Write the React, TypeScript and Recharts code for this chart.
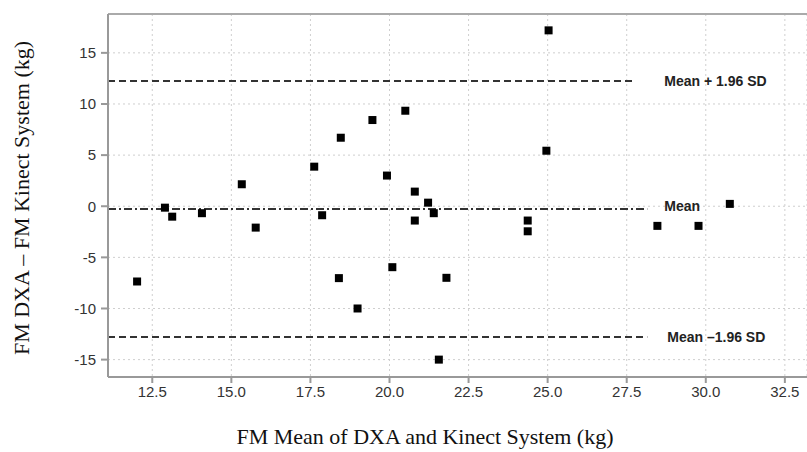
import { ScatterChart, Scatter, XAxis, YAxis, CartesianGrid, ReferenceLine, Label } from "recharts";

// Bland-Altman points: mean of the two methods vs. difference
const meanValues = [12.02, 12.9, 13.13, 14.07, 15.33, 15.77, 17.62, 17.87, 18.4, 18.46, 18.99, 19.46, 19.92, 20.09, 20.5, 20.8, 20.8, 21.22, 21.4, 21.56, 21.8, 24.37, 24.37, 24.96, 25.03, 28.47, 29.77, 30.76];
const diffValues = [-7.36, -0.14, -1.02, -0.68, 2.15, -2.09, 3.87, -0.88, -7.03, 6.7, -10.0, 8.43, 3.0, -5.96, 9.34, 1.43, -1.4, 0.35, -0.68, -15.0, -7.0, -1.4, -2.45, 5.43, 17.2, -1.92, -1.92, 0.23];

const xTicks = [12.5, 15, 17.5, 20, 22.5, 25, 27.5, 30, 32.5];
const yTicks = [-15, -10, -5, 0, 5, 10, 15];

const MEAN_DIFF = -0.27;
const UPPER_LIMIT = 12.24;
const LOWER_LIMIT = -12.78;

const X_MIN = 11.1;
const X_MAX = 33.2;
const Y_MIN = -16.7;
const Y_MAX = 18.8;

const points = meanValues.map((m, i) => ({ mean: m, diff: diffValues[i] }));

const tickStyle = { fontFamily: "Liberation Sans, Arial, sans-serif", fontSize: 15, fill: "#333" };
const lineLabelStyle = { fontFamily: "Liberation Sans, Arial, sans-serif", fontSize: 14, fontWeight: 700, fill: "#222" };
const titleFont = "Liberation Serif, Times New Roman, serif";

const SquareDot = (props: any) => {
    const { cx, cy } = props;
    return <rect x={cx - 4} y={cy - 4} width={8} height={8} fill="#000" />;
};

export default function App() {
    return (
        <div style={{ position: "absolute", left: 0, top: 0, background: "#fff" }}>
            <ScatterChart width={807} height={452} margin={{ top: 14, right: 0, bottom: 0, left: 0 }}>
                <CartesianGrid stroke="#cfcfcf" strokeDasharray="2 3" />
                <XAxis
                    type="number"
                    dataKey="mean"
                    domain={[X_MIN, X_MAX]}
                    ticks={xTicks}
                    tickFormatter={(v: number) => v.toFixed(1)}
                    allowDataOverflow
                    height={75}
                    stroke="#999"
                    strokeWidth={2}
                    tickSize={6}
                    tickMargin={3}
                    tick={tickStyle}
                >
                    <Label
                        content={() => (
                            <text x={425} y={444} textAnchor="middle" fontFamily={titleFont} fontSize={22} fill="#111">
                                FM Mean of DXA and Kinect System (kg)
                            </text>
                        )}
                    />
                </XAxis>
                <YAxis
                    type="number"
                    dataKey="diff"
                    domain={[Y_MIN, Y_MAX]}
                    ticks={yTicks}
                    allowDataOverflow
                    width={108}
                    stroke="#999"
                    strokeWidth={2}
                    tickSize={7}
                    tickMargin={5}
                    tick={tickStyle}
                >
                    <Label
                        content={() => (
                            <text x={29} y={198} transform="rotate(-90 29 198)" textAnchor="middle" fontFamily={titleFont} fontSize={22} fill="#111">
                                FM DXA – FM Kinect System (kg)
                            </text>
                        )}
                    />
                </YAxis>
                <ReferenceLine y={Y_MAX} stroke="#aaa" strokeWidth={2} />
                <ReferenceLine
                    segment={[{ x: X_MIN, y: UPPER_LIMIT }, { x: 27.74, y: UPPER_LIMIT }]}
                    stroke="#333"
                    strokeWidth={2}
                    strokeDasharray="7 4"
                    label={{ value: "Mean + 1.96 SD", position: "right", offset: 30, style: lineLabelStyle }}
                />
                <ReferenceLine
                    segment={[{ x: X_MIN, y: MEAN_DIFF }, { x: 28.15, y: MEAN_DIFF }]}
                    stroke="#333"
                    strokeWidth={2}
                    strokeDasharray="8 3 2 3"
                    label={{ value: "Mean", position: "right", offset: 17, style: lineLabelStyle, dy: -3 }}
                />
                <ReferenceLine
                    segment={[{ x: X_MIN, y: LOWER_LIMIT }, { x: 28.15, y: LOWER_LIMIT }]}
                    stroke="#333"
                    strokeWidth={2}
                    strokeDasharray="7 4"
                    label={{ value: "Mean –1.96 SD", position: "right", offset: 20, style: lineLabelStyle }}
                />
                <Scatter data={points} shape={SquareDot} isAnimationActive={false} />
            </ScatterChart>
        </div>
    );
}
